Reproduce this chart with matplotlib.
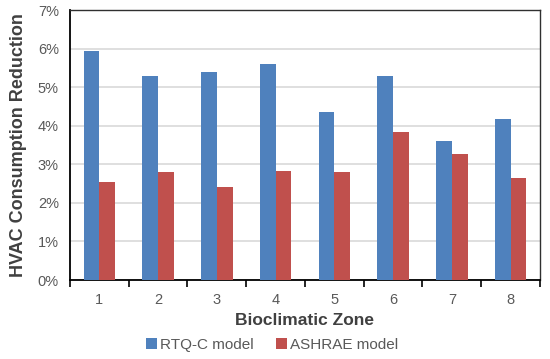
import numpy as np
import matplotlib.pyplot as plt
from matplotlib.ticker import FuncFormatter, FixedLocator

plt.rcParams['font.family'] = ['Liberation Sans', 'DejaVu Sans']

zones = ['1', '2', '3', '4', '5', '6', '7', '8']
rtqc = [5.94, 5.28, 5.38, 5.61, 4.35, 5.28, 3.60, 4.17]
ashrae = [2.53, 2.79, 2.42, 2.83, 2.79, 3.83, 3.27, 2.64]

x = np.arange(len(zones))
w = 0.27

fig = plt.figure(figsize=(5.5, 3.59), dpi=100)
ax = fig.add_axes([70/550, 1 - 280/359, 470/550, 270/359])

ax.bar(x - w/2, rtqc, w, color='#4F81BD', label='RTQ-C model', zorder=3)
ax.bar(x + w/2, ashrae, w, color='#C0504D', label='ASHRAE model', zorder=3)

ax.set_xlim(-0.5, len(zones) - 0.5)
ax.set_ylim(0, 7)
ax.set_yticks(np.arange(0, 8, 1))
ax.yaxis.set_major_formatter(FuncFormatter(lambda v, p: '%d%%' % v))
ax.grid(axis='y', color='#d9d9d9', linewidth=1.2, zorder=0)

ax.set_xticks(x)
ax.set_xticklabels(zones)
ax.xaxis.set_minor_locator(FixedLocator(np.arange(-0.5, len(zones), 1)))
ax.tick_params(axis='x', which='major', length=0, pad=9, labelsize=10.5, labelcolor='#595959')
ax.tick_params(axis='x', which='minor', length=5, width=1.2, color='black', direction='out')
ax.tick_params(axis='y', length=0, pad=8, labelsize=10.5, labelcolor='#595959')

for s in ['left', 'bottom']:
    ax.spines[s].set_color('black')
    ax.spines[s].set_linewidth(1.3)
for s in ['top', 'right']:
    ax.spines[s].set_color('#303030')
    ax.spines[s].set_linewidth(1.0)

ax.set_xlabel('Bioclimatic Zone', fontsize=12.5, fontweight='bold', color='#404040', labelpad=5)
ax.set_ylabel('HVAC Consumption Reduction', fontsize=13, fontweight='bold', color='#404040', labelpad=8)

fig.legend(loc='center', bbox_to_anchor=(0.495, 1 - 345/359), ncol=2, frameon=False,
           fontsize=11, handlelength=0.7, handleheight=0.7, handletextpad=0.2,
           columnspacing=1.5, labelcolor='#595959')

fig.savefig('out.png')
